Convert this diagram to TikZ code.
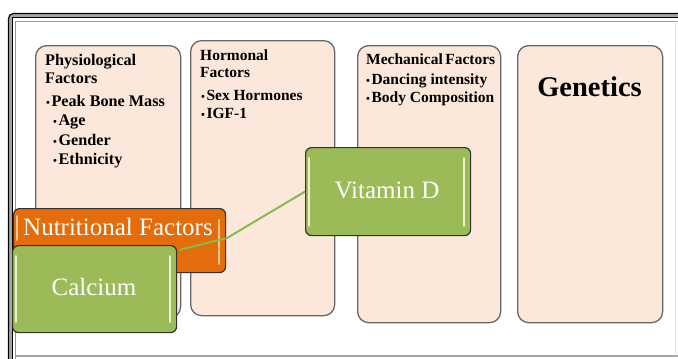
\documentclass[tikz,border=0pt]{standalone}
\usepackage{fontspec}
\setmainfont{Liberation Serif}
\definecolor{peach}{HTML}{FCE8DA}
\definecolor{boxline}{HTML}{666666}
\definecolor{grn}{HTML}{9BBB59}
\definecolor{grnlight}{HTML}{E9F5C8}
\definecolor{grnline}{HTML}{84BC4C}
\definecolor{orng}{HTML}{E46C0A}
\definecolor{orlight}{HTML}{FAC88E}
\newcommand{\bul}{{\fontsize{11}{11}\selectfont•}\hspace{1.5pt}}
\tikzset{
  factor/.style={draw=boxline, line width=1.3pt, fill=peach, rounded corners=11pt},
  small/.style={anchor=mid west, inner sep=0pt, font=\fontsize{15.5}{17}\selectfont\bfseries},
  smallb/.style={small, font=\fontsize{16.2}{17}\selectfont\bfseries},
  gbox/.style={draw=black!80, line width=1.2pt, fill=grn, rounded corners=6pt, inner sep=0pt},
  obox/.style={draw=black!80, line width=1.2pt, fill=orng, rounded corners=6pt},
  gstrip/.style={grnlight, line width=1.8pt, line cap=round},
  ostrip/.style={orlight, line width=1.8pt, line cap=round},
  wtext/.style={text=white, inner sep=0pt, font=\fontsize{25}{28}\selectfont},
}
\begin{document}
\begin{tikzpicture}[x=1pt,y=-1pt]
\useasboundingbox (0,0) rectangle (678,359);
\fill[white] (0,0) rectangle (678,359);
% frame
\fill[gray!70] (8.5,362) -- (8.5,20) [rounded corners=5pt] -- (8.5,13.5) -- (680,13.5) [sharp corners] -- (680,17.5) -- (12.5,17.5) -- (12.5,362) -- cycle;
\draw[black, line width=1.2pt] (8.5,362) [rounded corners=5pt] -- (8.5,13.5) -- (680,13.5);
\draw[black, line width=1.2pt] (12.5,362) -- (12.5,17.5) -- (680,17.5);
\draw[gray!80, line width=0.9pt] (15.5,362) -- (15.5,21) -- (680,21);
\draw[gray!70, line width=1.3pt] (15.5,356) -- (680,356);
\draw[gray!25, line width=0.8pt] (675.5,21) -- (675.5,356);
% factor boxes
\node[factor, minimum width=145pt, minimum height=272pt, anchor=north west] (phys) at (35,45) {};
\node[factor, minimum width=144pt, minimum height=275pt, anchor=north west] (horm) at (190,40) {};
\node[factor, minimum width=143pt, minimum height=277pt, anchor=north west] (mech) at (357,45) {};
\node[factor, minimum width=145pt, minimum height=277pt, anchor=north west] (gen) at (517,45) {};
% texts
\node[smallb] (p1) at (45,63) {Physiological};
\node[smallb] (p2) at (45,81) {Factors};
\node[smallb] (p3) at (46,104) {\bul Peak Bone Mass};
\node[smallb] (p4) at (53,123) {\bul Age};
\node[smallb] (p5) at (53,143) {\bul Gender};
\node[smallb] (p6) at (53,162) {\bul Ethnicity};
\node[small] (h1) at (200,58) {Hormonal};
\node[small] (h2) at (200,75) {Factors};
\node[small] (h3) at (201,98) {\bul Sex Hormones};
\node[small] (h4) at (201,116) {\bul IGF-1};
\node[small] (m1) at (366,62) {Mechanical\kern2.5pt Factors};
\node[small] (m2) at (366,82) {\bul Dancing intensity};
\node[small] (m3) at (366,100) {\bul Body Composition};
\node[font=\fontsize{28.5}{30}\selectfont\bfseries, inner sep=0pt] (gt) at (589.5,87) {Genetics};
% nutritional
\node[obox, minimum width=212pt, minimum height=64pt, anchor=north west] (nut) at (13,208) {};
\draw[ostrip] (17,216) -- (17,240);
\draw[ostrip] (219,220) -- (219,264);
\node[wtext, font=\fontsize{25}{28}\selectfont] (nutt) at (118,227) {Nutritional Factors};
% line bend
\coordinate (bend) at (227,238);
% calcium
\node[gbox, minimum width=164pt, minimum height=87pt, anchor=north west] (cal) at (12,245) {};
\draw[gstrip] (16,256) -- (16,322);
\draw[gstrip] (170,256) -- (170,322);
\node[wtext] (calt) at (94,287) {Calcium};
% vitamin D
\node[gbox, minimum width=165pt, minimum height=88pt, anchor=north west] (vitd) at (305,147) {};
\draw[gstrip] (309,158) -- (309,226);
\draw[gstrip] (464,158) -- (464,226);
\node[wtext] (vitt) at (387,190) {Vitamin D};
\draw[grnline, line width=2pt] ([xshift=2pt,yshift=-5pt]cal.north east) -- (bend) -- (vitd.west);
\end{tikzpicture}
\end{document}
